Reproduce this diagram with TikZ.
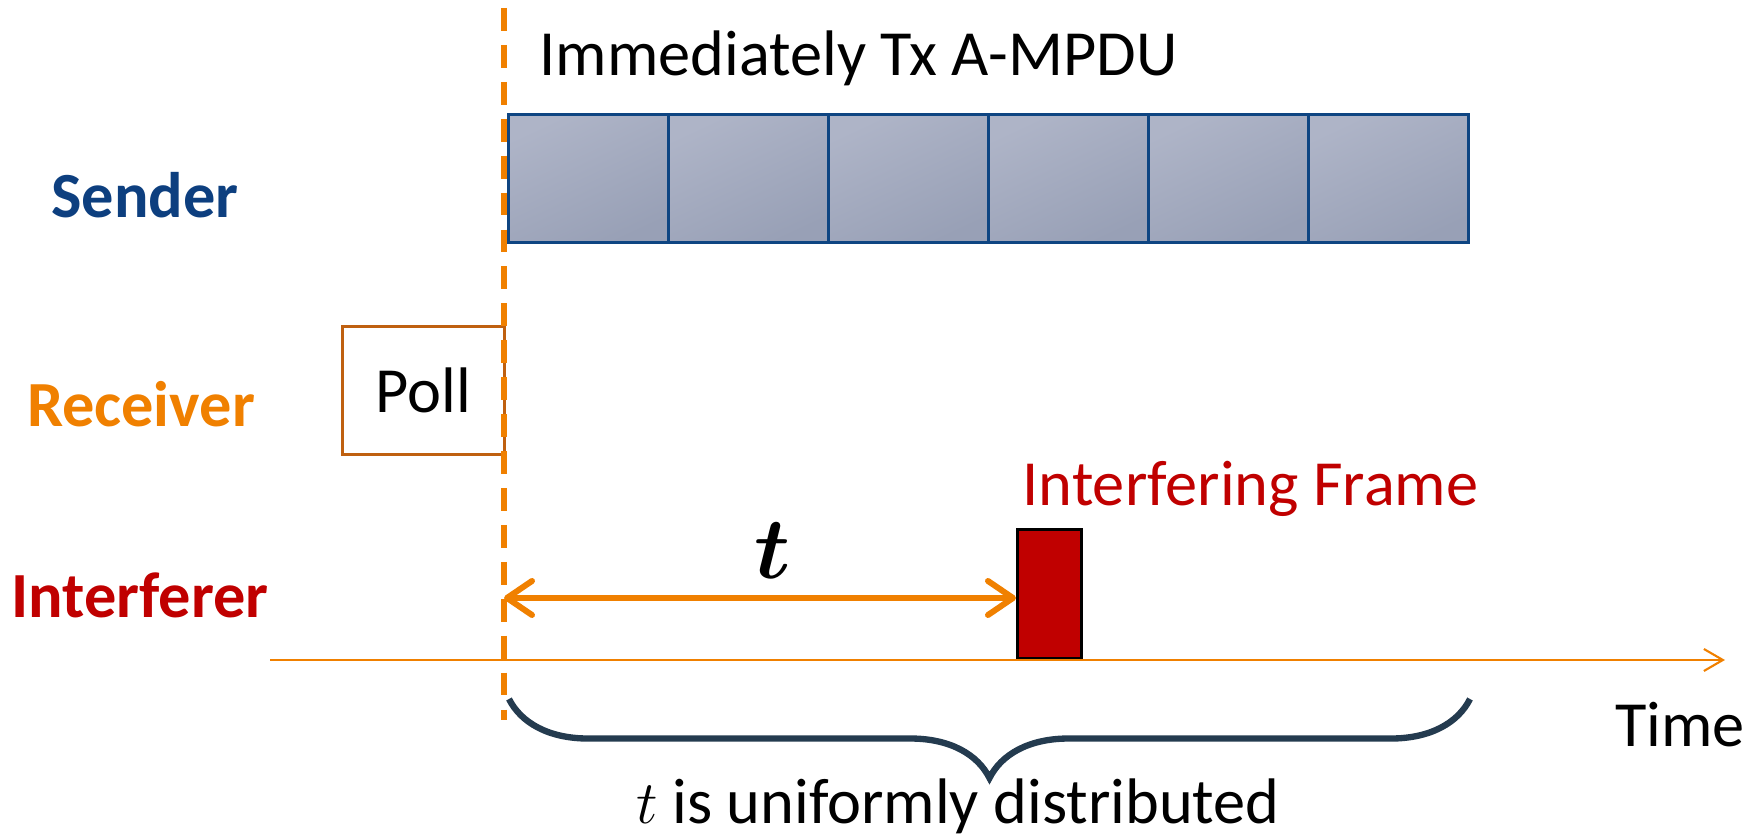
\documentclass[tikz,border=0pt]{standalone}
\usepackage{fontspec}
\setmainfont{Carlito}
\usepackage{amsmath}
\usepackage{bm}
\usepackage{xcolor}
\usetikzlibrary{arrows.meta}
\usetikzlibrary{decorations.pathreplacing}
\usetikzlibrary{calc}
\definecolor{senderblue}{HTML}{0D3F7F}
\definecolor{recvorange}{HTML}{F08000}
\definecolor{pollbrown}{HTML}{BF6010}
\definecolor{intred}{HTML}{C00000}
\definecolor{bracecol}{HTML}{243B4F}
\definecolor{mpduedge}{HTML}{0E4582}
\definecolor{mpdulight}{HTML}{AEB4C7}
\definecolor{mpdudark}{HTML}{98A0B6}
\newcommand{\diagfont}{\fontsize{18.3}{22}\selectfont}

\begin{document}
\begin{tikzpicture}[x=0.01cm,y=-0.01cm,
    lane/.style={font=\diagfont\bfseries, anchor=base, inner sep=0pt},
    caption/.style={font=\diagfont, inner sep=0pt},
    mpdu/.style={draw=mpduedge, line width=0.9pt, minimum width=1.6cm, minimum height=1.28cm,
        inner sep=0pt, anchor=north west, top color=mpdulight, bottom color=mpdudark, shading angle=25}]
        \useasboundingbox (0,0) rectangle (1762,837);

        %%% LANE LABELS %%%
        \node[lane, text=senderblue] (sender) at (145,218) {Sender};
        \node[lane, text=recvorange] (receiver) at (141,427) {Receiver};
        \node[lane, text=intred] (interferer) at (140,618) {Interferer};

        %%% A-MPDU %%%
        \foreach \i in {0,...,5}
            \node[mpdu] (mpdu\i) at ({507+160*\i},113) {};
        \node[caption, anchor=base west] (mpdutext) at (539,76) {Immediately Tx A-MPDU};

        %%% POLL %%%
        \node[draw=pollbrown, line width=0.9pt, minimum width=1.62cm, minimum height=1.28cm,
            inner sep=0pt, anchor=north west, font=\diagfont] (poll) at (341,325) {Poll};

        %%% INTERFERING FRAME %%%
        \node[draw=black, fill=intred, line width=0.9pt, minimum width=0.64cm, minimum height=1.29cm,
            inner sep=0pt, anchor=south west] (frame) at (1016,660) {};
        \node[caption, anchor=base west, text=intred] (frametext) at (1022,506) {Interfering Frame};

        %%% TIME AXIS %%%
        \coordinate (axisstart) at (270,660);
        \coordinate (axisend) at (1725,660);
        \draw[recvorange, line width=0.6pt, -{Straight Barb[length=1.9mm,width=2.2mm]}] (axisstart)--(axisend);
        \node[caption, anchor=base] (time) at (1680,747) {Time};

        %%% START LINE %%%
        \coordinate (top) at (504,8);
        \coordinate (bottom) at (504,720);
        \draw[recvorange, line width=1.6pt, dash pattern=on 6.5pt off 4pt] (top)--(bottom);

        %%% t ARROW %%%
        \coordinate (tstart) at (504,598);
        \draw[recvorange, line width=1.7pt, {Straight Barb[round,length=2.5mm,width=3.4mm]}-{Straight Barb[round,length=2.5mm,width=3.4mm]}]
            (tstart)--(frame.west |- tstart);
        \node[anchor=base, inner sep=0pt, font=\fontsize{27}{30}\selectfont] (tlabel) at (773,579) {$\bm{t}$};

        %%% BRACE %%%
        \coordinate (braceleft) at (509,699);
        \coordinate (braceright) at (1470,699);
        \draw[bracecol, line width=1.8pt, decorate, decoration={brace, mirror, amplitude=0.79cm}] (braceleft)--(braceright);
        \node[caption, anchor=base] (note) at (958,824) {$t$ is uniformly distributed};
    \end{tikzpicture}
\end{document}
